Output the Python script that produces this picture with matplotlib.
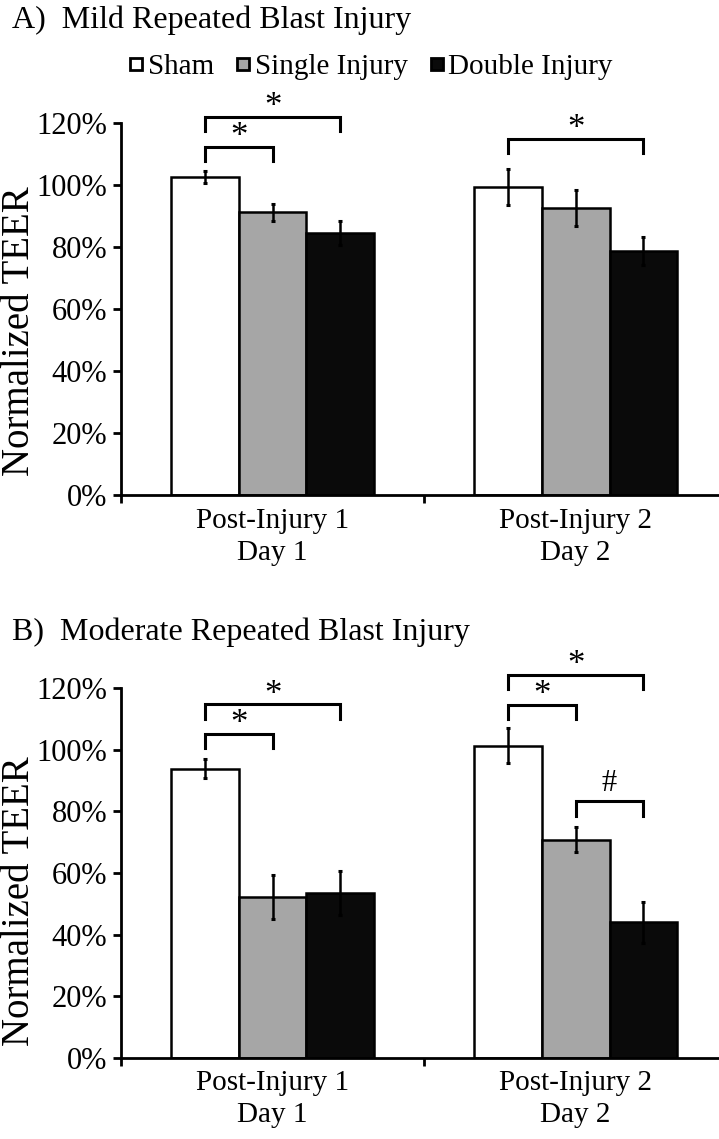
import numpy as np
import matplotlib
matplotlib.use("Agg")
import matplotlib.pyplot as plt
from matplotlib.lines import Line2D

plt.rcParams['font.family'] = ['Liberation Serif', 'DejaVu Serif']

groups = ['Sham', 'Single Injury', 'Double Injury']
colors = ['#ffffff', '#a6a6a6', '#0a0a0a']
days = ['Post-Injury 1\nDay 1', 'Post-Injury 2\nDay 2']

# mild blast (panel A), normalized TEER in %
mild_mean = [[102.5, 99.5], [91.2, 92.5], [84.5, 78.6]]
mild_err = [[2.0, 5.8], [2.7, 5.8], [4.0, 4.5]]
# moderate blast (panel B)
mod_mean = [[93.8, 101.3], [52.2, 70.8], [53.5, 44.0]]
mod_err = [[3.1, 5.6], [7.0, 4.1], [7.1, 6.6]]

# significance brackets: (day, group a, group b, bracket height, mark)
mild_sig = [(0, 0, 1, 112.4, '*'), (0, 0, 2, 122.0, '*'), (1, 0, 2, 114.9, '*')]
mod_sig = [(0, 0, 1, 105.1, '*'), (0, 0, 2, 114.8, '*'), (1, 0, 1, 114.6, '*'),
           (1, 0, 2, 124.3, '*'), (1, 1, 2, 83.2, '#')]

W, H = 719, 1139
fig = plt.figure(figsize=(W / 100, H / 100), dpi=100)

width = 0.2235
x = np.arange(len(days))


def panel(rect, means, errs, sig, label_y):
    ax = fig.add_axes(rect)
    for k in range(3):
        pos = x + (k - 1) * width
        ax.bar(pos, means[k], width, color=colors[k], edgecolor='black',
               linewidth=1.8, zorder=2)
        ax.errorbar(pos, means[k], yerr=errs[k], fmt='none', ecolor='black',
                    elinewidth=1.8, capsize=1.6, capthick=2.2, zorder=3)
    for d, a, b, yt, mark in sig:
        xa = d + (a - 1) * width
        xb = d + (b - 1) * width
        ax.plot([xa, xa, xb, xb], [yt - 4.7, yt, yt, yt - 4.7], color='black',
                lw=2.2, clip_on=False, solid_joinstyle='miter')
        if mark == '*':
            ax.text((xa + xb) / 2, yt + 2.9, mark, ha='center', va='center',
                    fontsize=25)
        else:
            ax.text((xa + xb) / 2, yt + 1.2, mark, ha='center', va='bottom',
                    fontsize=22)
    ax.set_ylim(0, 120)
    ax.set_xlim(-0.5, 1.473)
    ax.set_yticks(np.arange(0, 121, 20))
    ax.set_yticklabels([f'{v}%' for v in range(0, 121, 20)], fontsize=22)
    ax.set_xticks(x)
    ax.set_xticklabels(days, fontsize=21, linespacing=1.3)
    ax.set_xticks([-0.5, 0.5], minor=True)
    ax.tick_params(axis='x', which='major', length=0, pad=9)
    ax.tick_params(axis='x', which='minor', length=6, width=2, direction='out')
    ax.tick_params(axis='y', length=6, width=2, direction='out', pad=4)
    for s in ['top', 'right']:
        ax.spines[s].set_visible(False)
    for s in ['left', 'bottom']:
        ax.spines[s].set_linewidth(2)
    ax.set_ylabel('Normalized TEER', fontsize=28)
    ax.yaxis.set_label_coords(-0.139, label_y)
    return ax


left = 121 / W
panel([left, 1 - 495 / H, 1 - left, 372 / H], mild_mean, mild_err, mild_sig, 0.44)
panel([left, 1 - 1058 / H, 1 - left, 370 / H], mod_mean, mod_err, mod_sig, 0.424)

fig.text(12 / W, 1 - 20 / H, 'A)  Mild Repeated Blast Injury', fontsize=23,
         va='center', ha='left')
fig.text(12 / W, 1 - 632 / H, 'B)  Moderate Repeated Blast Injury', fontsize=23,
         va='center', ha='left')

handles = [Line2D([], [], ls='none', marker='s', markersize=8,
                  markerfacecolor=c, markeredgecolor='black', markeredgewidth=2)
           for c in colors]
fig.legend(handles, groups, loc='center', bbox_to_anchor=(370 / W, 1 - 67 / H),
           ncol=3, frameon=False, fontsize=21, handlelength=0.6,
           handletextpad=0.1, columnspacing=0.7)

fig.savefig('out.png', dpi=100)
